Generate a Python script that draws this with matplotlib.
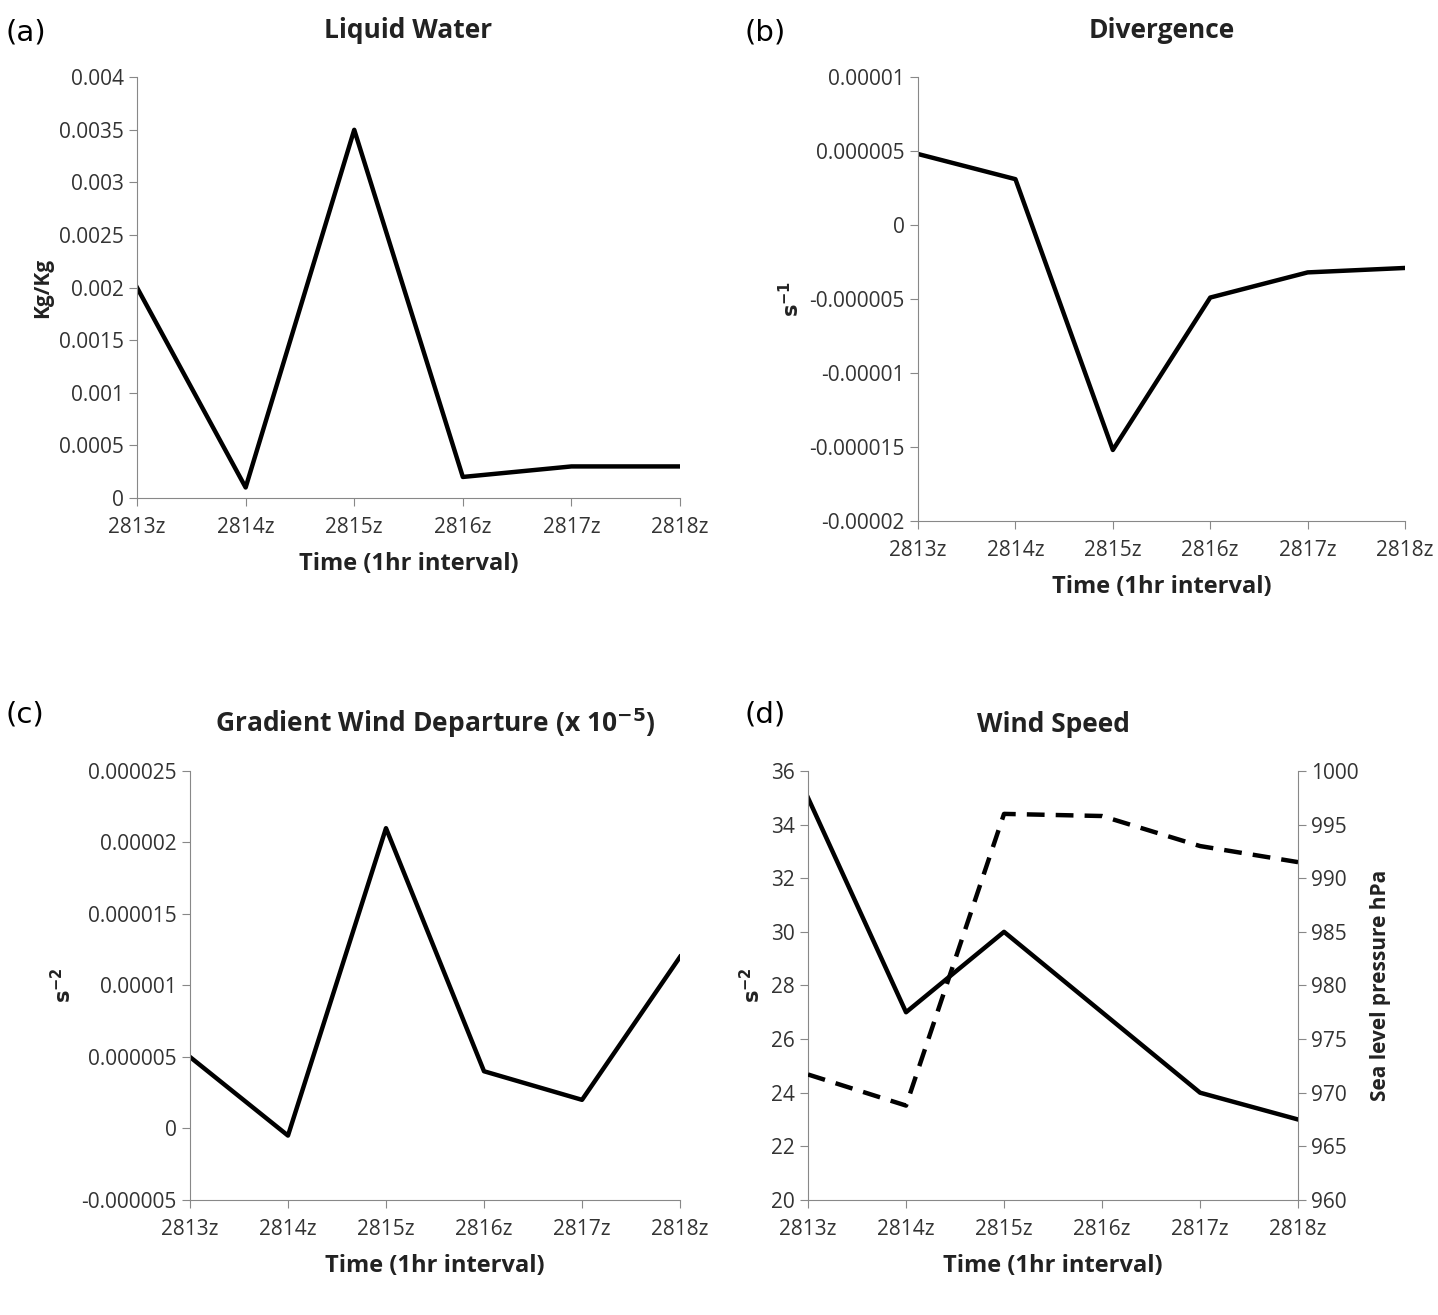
import matplotlib
matplotlib.use('Agg')
import matplotlib.pyplot as plt

times = ['2813z', '2814z', '2815z', '2816z', '2817z', '2818z']
liquid_water = [0.002, 0.0001, 0.0035, 0.0002, 0.0003, 0.0003]
divergence = [0.0000048, 0.0000031, -0.0000152, -0.0000049, -0.0000032, -0.0000029]
grad_wind = [0.000005, -0.0000005, 0.000021, 0.000004, 0.000002, 0.000012]
wind_speed = [35, 27, 30, 27, 24, 23]
slp = [971.7, 968.8, 996.0, 995.8, 993.0, 991.5]

a_ticks = [0, 0.0005, 0.001, 0.0015, 0.002, 0.0025, 0.003, 0.0035, 0.004]
a_labels = ['0', '0.0005', '0.001', '0.0015', '0.002', '0.0025', '0.003', '0.0035', '0.004']
b_ticks = [-0.00002, -0.000015, -0.00001, -0.000005, 0, 0.000005, 0.00001]
b_labels = ['-0.00002', '-0.000015', '-0.00001', '-0.000005', '0', '0.000005', '0.00001']
c_ticks = [-0.000005, 0, 0.000005, 0.00001, 0.000015, 0.00002, 0.000025]
c_labels = ['-0.000005', '0', '0.000005', '0.00001', '0.000015', '0.00002', '0.000025']

plt.rcParams['font.family'] = ['Open Sans', 'DejaVu Sans']
grey = '#888888'
fig = plt.figure(figsize=(14.38, 13.15), dpi=100)


def style(ax, ticks, labels, ylabel, title):
    x = range(len(times))
    ax.set_xlim(0, len(times) - 1)
    ax.set_xticks(list(x))
    ax.set_xticklabels(times)
    ax.set_yticks(ticks)
    ax.set_yticklabels(labels)
    ax.set_ylim(ticks[0], ticks[-1])
    for s in ['top', 'right']:
        ax.spines[s].set_visible(False)
    for s in ['left', 'bottom']:
        ax.spines[s].set_color(grey)
    ax.tick_params(colors=grey, labelcolor='#333333', labelsize=15, length=6, direction='out')
    ax.tick_params(axis='x', pad=8)
    ax.set_xlabel('Time (1hr interval)', fontsize=17, fontweight='bold', color='#222222', labelpad=10)
    ax.set_ylabel(ylabel, fontsize=15, fontweight='bold', color='#222222')
    ax.set_title(title, fontsize=19, fontweight='bold', color='#222222', pad=28)


axa = fig.add_axes([0.0953, 0.6213, 0.3776, 0.320])
axa.plot(range(6), liquid_water, color='black', lw=3.2)
style(axa, a_ticks, a_labels, 'Kg/Kg', 'Liquid Water')

axb = fig.add_axes([0.6384, 0.6038, 0.3387, 0.3376])
axb.plot(range(6), divergence, color='black', lw=3.2)
style(axb, b_ticks, b_labels, '$\\mathbf{s^{-1}}$', 'Divergence')

axc = fig.add_axes([0.1321, 0.0875, 0.3408, 0.3262])
axc.plot(range(6), grad_wind, color='black', lw=3.2)
style(axc, c_ticks, c_labels, '$\\mathbf{s^{-2}}$', 'Gradient Wind Departure (x 10$^{\\mathbf{-5}}$)')

axd = fig.add_axes([0.5619, 0.0875, 0.3408, 0.3262])
axd.plot(range(6), wind_speed, color='black', lw=3.2)
style(axd, list(range(20, 37, 2)), [str(v) for v in range(20, 37, 2)], '$\\mathbf{s^{-2}}$', 'Wind Speed')
axd2 = axd.twinx()
axd2.plot(range(6), slp, color='black', lw=3.2, ls=(0, (4, 2.5)))
axd2.set_ylim(960, 1000)
axd2.set_yticks(list(range(960, 1001, 5)))
for s in ['top', 'left', 'bottom']:
    axd2.spines[s].set_visible(False)
axd2.spines['right'].set_color(grey)
axd2.tick_params(colors=grey, labelcolor='#333333', labelsize=15, length=6)
axd2.set_ylabel('Sea level pressure hPa', fontsize=15, fontweight='bold', color='#222222', labelpad=8)

for lx, ly, letter in [(0.004, 0.975, '(a)'), (0.518, 0.975, '(b)'),
                       (0.004, 0.457, '(c)'), (0.518, 0.457, '(d)')]:
    fig.text(lx, ly, letter, fontsize=21, family='DejaVu Sans', va='center')

fig.savefig('out.png', dpi=100)
